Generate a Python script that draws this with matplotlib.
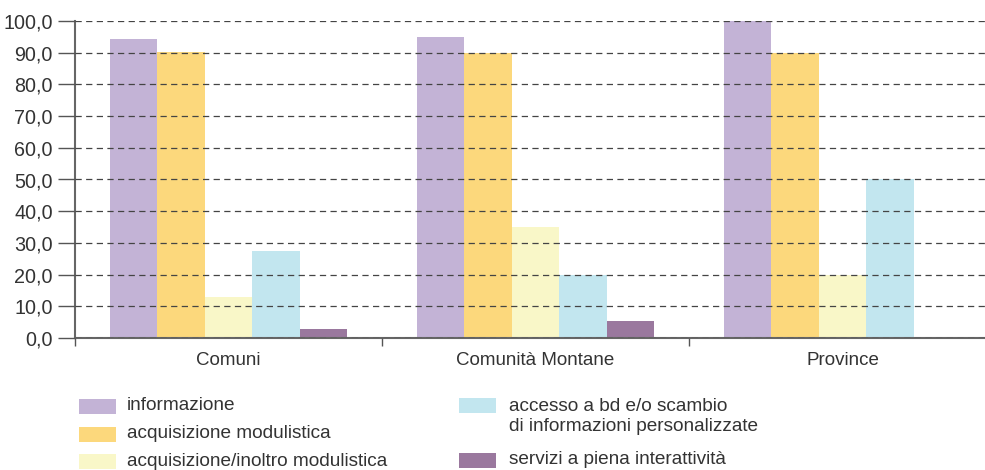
import numpy as np
import matplotlib
matplotlib.use("Agg")
import matplotlib.pyplot as plt
from matplotlib.patches import Rectangle
from matplotlib.ticker import FuncFormatter, FixedLocator

plt.rcParams['font.family'] = ['Liberation Sans', 'DejaVu Sans']

categories = ["Comuni", "Comunità Montane", "Province"]
series_names = [
    "informazione",
    "acquisizione modulistica",
    "acquisizione/inoltro modulistica",
    "accesso a bd e/o scambio\ndi informazioni personalizzate",
    "servizi a piena interattività",
]
informazione = [94.3, 95.0, 100.0]
acq_modulistica = [90.2, 90.0, 90.0]
acq_inoltro = [13.0, 35.0, 20.0]
accesso_bd = [27.4, 20.0, 50.0]
servizi_interattivi = [2.8, 5.3, 0.0]
colors = ["#c3b3d6", "#fcd87c", "#f9f7c8", "#c2e6ef", "#9a789e"]

values = [informazione, acq_modulistica, acq_inoltro, accesso_bd, servizi_interattivi]

fig = plt.figure(figsize=(9.85, 4.7), dpi=100)
ax = fig.add_axes([75 / 985, 132 / 470, 910 / 985, 317 / 470])

x = np.arange(len(categories))
width = 0.155
for i, (vals, col) in enumerate(zip(values, colors)):
    ax.bar(x + (i - 2) * width, vals, width, color=col, linewidth=0, zorder=1)

ax.set_xlim(-0.5, -0.5 + 910 / 307)
ax.set_ylim(0, 100)
ax.set_yticks(np.arange(0, 101, 10))
ax.yaxis.set_major_formatter(FuncFormatter(lambda v, p: f"{v:.1f}".replace(".", ",")))
ax.grid(axis="y", color="#444444", linestyle=(0, (5, 3.5)), linewidth=0.9, zorder=3)
ax.set_axisbelow(False)

# category labels centered, ticks at group boundaries
ax.set_xticks(x)
ax.set_xticklabels(categories)
ax.tick_params(axis="x", which="major", length=0, pad=10, labelsize=13.5, labelcolor="#333333")
ax.xaxis.set_minor_locator(FixedLocator([-0.5, 0.5, 1.5]))
ax.tick_params(axis="x", which="minor", length=6, width=1, color="#555555", direction="out")
ax.tick_params(axis="y", length=12, width=1, color="#555555", labelsize=14.2, labelcolor="#333333", pad=4)

for s in ["top", "right"]:
    ax.spines[s].set_visible(False)
for s in ["left", "bottom"]:
    ax.spines[s].set_color("#666666")
    ax.spines[s].set_linewidth(1.5)

# legend drawn in two columns
leg_pos = [(79, 406), (79, 434), (79, 461), (459, 405), (459, 460)]
for (px, py), name, col in zip(leg_pos, series_names, colors):
    fig.patches.append(Rectangle((px / 985, 1 - (py + 7.5) / 470), 37 / 985, 15 / 470,
                                 transform=fig.transFigure, facecolor=col, edgecolor="none"))
    dx = 48 if px < 300 else 50
    if "\n" in name:
        fig.text((px + dx) / 985, 1 - (py - 7) / 470, name, fontsize=13.7,
                 color="#333333", va="top", linespacing=1.2)
    else:
        fig.text((px + dx) / 985, 1 - py / 470, name, fontsize=13.7,
                 color="#333333", va="center")

fig.savefig("out.png", dpi=100)
